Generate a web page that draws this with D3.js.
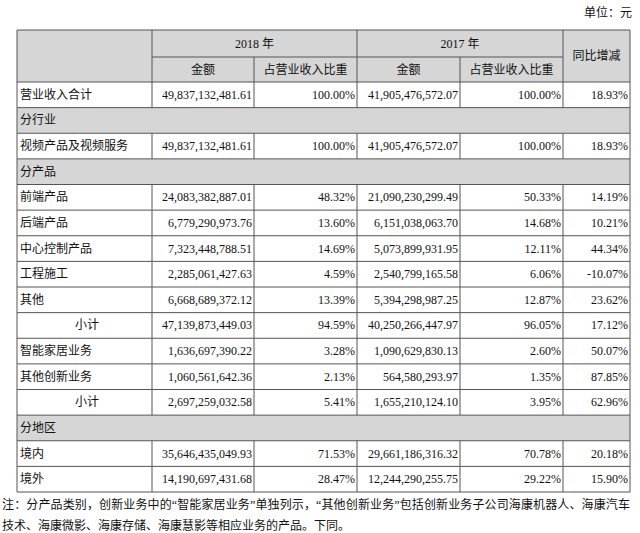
<!DOCTYPE html>
<html><head><meta charset="utf-8">
<script src="https://cdn.jsdelivr.net/npm/d3@7"></script>
<style>body{margin:0;background:#fff}</style></head>
<body><svg id="c" width="640" height="533"></svg>
<script>
const rowLabels=["营业收入合计","分行业","视频产品及视频服务","分产品","前端产品","后端产品","中心控制产品","工程施工","其他","小计","智能家居业务","其他创新业务","小计","分地区","境内","境外"];
const sectionRows=["分行业","分产品","分地区"];
const amt2018=["49,837,132,481.61",null,"49,837,132,481.61",null,"24,083,382,887.01","6,779,290,973.76","7,323,448,788.51","2,285,061,427.63","6,668,689,372.12","47,139,873,449.03","1,636,697,390.22","1,060,561,642.36","2,697,259,032.58",null,"35,646,435,049.93","14,190,697,431.68"];
const pct2018=["100.00%",null,"100.00%",null,"48.32%","13.60%","14.69%","4.59%","13.39%","94.59%","3.28%","2.13%","5.41%",null,"71.53%","28.47%"];
const amt2017=["41,905,476,572.07",null,"41,905,476,572.07",null,"21,090,230,299.49","6,151,038,063.70","5,073,899,931.95","2,540,799,165.58","5,394,298,987.25","40,250,266,447.97","1,090,629,830.13","564,580,293.97","1,655,210,124.10",null,"29,661,186,316.32","12,244,290,255.75"];
const pct2017=["100.00%",null,"100.00%",null,"50.33%","14.68%","12.11%","6.06%","12.87%","96.05%","2.60%","1.35%","3.95%",null,"70.78%","29.22%"];
const yoy=["18.93%",null,"18.93%",null,"14.19%","10.21%","44.34%","-10.07%","23.62%","17.12%","50.07%","87.85%","62.96%",null,"20.18%","15.90%"];
const yearHeaders=["2018 年","2017 年"];
const subHeaders=["金额","占营业收入比重"];
const yoyHeader="同比增减";
const unitText="单位：元";
const noteLines=["注：分产品类别，创新业务中的“智能家居业务”单独列示，“其他创新业务”包括创新业务子公司海康机器人、海康汽车","技术、海康微影、海康存储、海康慧影等相应业务的产品。下同。"];

const svg=d3.select("#c");
const font="'Liberation Serif','Noto Sans CJK SC',serif";
const colX=[17,152,254,357,460,563,630];
const headTop=30, headMid=57, headBot=82, bodyBot=492;
const y=d3.scaleBand().domain(d3.range(rowLabels.length)).range([headBot,bodyBot]);
const grey="#d6d6d6", line="#555";
const g=svg.append("g").attr("font-family",font).attr("font-size",12).attr("fill","#111");

g.append("text").attr("x",632).attr("y",17).attr("text-anchor","end").text(unitText);
g.append("rect").attr("x",colX[0]).attr("y",headTop).attr("width",colX[6]-colX[0]).attr("height",headBot-headTop).attr("fill",grey);
rowLabels.forEach((l,i)=>{ if(sectionRows.includes(l)) g.append("rect").attr("x",colX[0]).attr("y",y(i)).attr("width",colX[6]-colX[0]).attr("height",y.bandwidth()).attr("fill",grey);});
yearHeaders.forEach((t,k)=>{const x0=colX[1+2*k],x1=colX[3+2*k];
 g.append("text").attr("x",(x0+x1)/2).attr("y",(headTop+headMid)/2+4).attr("text-anchor","middle").text(t);
 subHeaders.forEach((s,j)=>g.append("text").attr("x",(colX[1+2*k+j]+colX[2+2*k+j])/2).attr("y",(headMid+headBot)/2+4).attr("text-anchor","middle").text(s));});
g.append("text").attr("x",(colX[5]+colX[6])/2).attr("y",(headTop+headBot)/2+4).attr("text-anchor","middle").text(yoyHeader);
const cols=[amt2018,pct2018,amt2017,pct2017,yoy];
rowLabels.forEach((l,i)=>{const cy=y(i)+y.bandwidth()/2+4;
 const sub=l==="小计";
 g.append("text").attr("x",sub?75:20).attr("y",cy).text(l);
 cols.forEach((c,j)=>{if(c[i]!=null) g.append("text").attr("x",colX[j+2]-2).attr("y",cy).attr("text-anchor","end").text(c[i]);});
});
const L=(x1,y1,x2,y2)=>g.append("line").attr("x1",x1).attr("y1",y1).attr("x2",x2).attr("y2",y2).attr("stroke",line).attr("stroke-width",1);
L(colX[0],headTop,colX[6],headTop); L(colX[1],headMid,colX[5],headMid); L(colX[0],headBot,colX[6],headBot);
[1,3,5].forEach(k=>L(colX[k],headTop,colX[k],headBot)); [2,4].forEach(k=>L(colX[k],headMid,colX[k],headBot));
L(colX[0],headTop,colX[0],bodyBot); L(colX[6],headTop,colX[6],bodyBot);
rowLabels.forEach((l,i)=>{L(colX[0],y(i)+y.bandwidth(),colX[6],y(i)+y.bandwidth());
 if(!sectionRows.includes(l)) colX.slice(1,6).forEach(x=>L(x,y(i),x,y(i)+y.bandwidth()));});
noteLines.forEach((t,i)=>{const tx=g.append("text").attr("x",2).attr("y",509+i*21).attr("font-size",12).text(t);
 if(i===0) tx.attr("textLength",628).attr("lengthAdjust","spacing");});
</script></body></html>
